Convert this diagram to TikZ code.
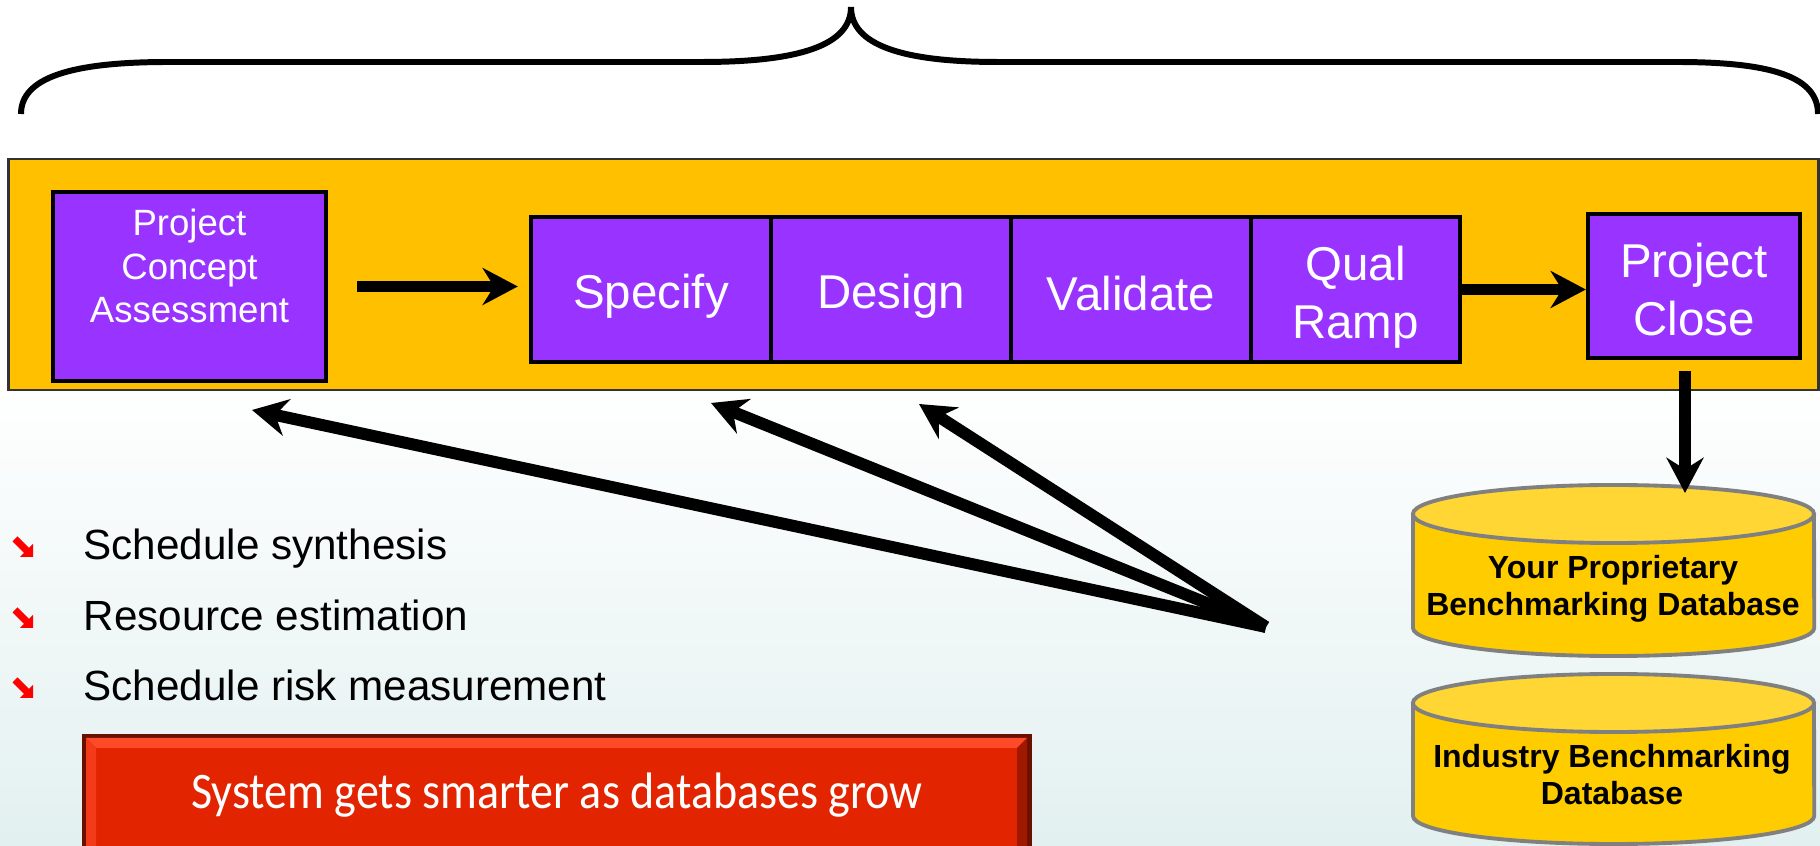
\documentclass[tikz,border=0pt]{standalone}
\usepackage{fontspec}
\setmainfont{Liberation Sans}
\newfontfamily\carl{Carlito}
\usetikzlibrary{arrows.meta,calc}
\definecolor{bandorange}{HTML}{FFC000}
\definecolor{purp}{HTML}{9933FF}
\definecolor{dbbody}{HTML}{FFCC00}
\definecolor{dbtop}{HTML}{FFD633}
\definecolor{dbline}{HTML}{808080}
\definecolor{redmain}{HTML}{E22400}
\definecolor{reddark}{HTML}{6A1000}
\definecolor{redlight}{HTML}{FF4A2A}
\definecolor{redshadow}{HTML}{A01800}
\definecolor{bgb}{HTML}{E3F0F0}
\definecolor{bulred}{HTML}{FF0000}
\newcommand{\dbcyl}[3]{%
  \fill[dbbody] (#1-200.5,#2) -- (#1-200.5,#3) arc[start angle=180,end angle=360,x radius=2.005cm,y radius=0.28cm] -- (#1+200.5,#2) -- cycle;
  \draw[dbline,line width=1.1pt] (#1-200.5,#2) -- (#1-200.5,#3) arc[start angle=180,end angle=360,x radius=2.005cm,y radius=0.28cm] -- (#1+200.5,#2);
  \draw[dbline,line width=1.1pt,fill=dbtop] (#1,#2) ellipse [x radius=2.005cm,y radius=0.29cm];
}
\tikzset{
  stagebox/.style={draw=black,line width=1.2pt,fill=purp,inner sep=0pt},
  stagetext/.style={text=white,inner sep=0pt,align=center,font=\fontsize{13.5}{16.5}\selectfont},
  bigarrow/.style={line width=3.4pt,-{Stealth[length=10pt,width=10.5pt]}},
  bullettext/.style={anchor=base west,inner sep=0pt,font=\fontsize{12}{14}\selectfont},
  dbtext/.style={align=center,inner sep=0pt,font=\bfseries\fontsize{9.1}{10.5}\selectfont},
}
\begin{document}
\begin{tikzpicture}[x=0.01cm,y=-0.01cm]
\useasboundingbox (0,0) rectangle (1820,846);
\clip (0,0) rectangle (1820,846);
\fill[white] (0,0) rectangle (1820,846);
\shade[top color=white,bottom color=bgb] (0,380) rectangle (1820,846);

% brace
\draw[line width=1.7pt] (21,114) .. controls (21,78) and (70,62) .. (168,62) -- (702,62)
  .. controls (800,62) and (851,45) .. (851,7)
  .. controls (851,45) and (902,62) .. (998,62) -- (1677,62)
  .. controls (1775,62) and (1818,78) .. (1818,114);

% band
\node[draw=black!80,line width=0.8pt,fill=bandorange,minimum width=18.09cm,minimum height=2.31cm,inner sep=0pt] (band) at (913.5,274.5) {};

% stages
\node[stagebox,minimum width=2.73cm,minimum height=1.89cm] (pca) at (189.5,286.5) {};
\node[text=white,align=center,inner sep=0pt,font=\fontsize{10.4}{12.3}\selectfont] (pcatxt) at (189.5,266) {Project\\Concept\\Assessment};
\node[stagebox,minimum width=2.4cm,minimum height=1.45cm] (spec) at (651,289.5) {};
\node[stagebox,minimum width=2.4cm,minimum height=1.45cm] (des) at (891,289.5) {};
\node[stagebox,minimum width=2.4cm,minimum height=1.45cm] (val) at (1131,289.5) {};
\node[stagebox,minimum width=2.09cm,minimum height=1.45cm] (qual) at (1355.5,289.5) {};
\node[stagebox,minimum width=2.12cm,minimum height=1.44cm] (close) at (1694,286) {};
\node[stagetext] (spectxt) at ($(spec.center)+(0,7)$) {Specify};
\node[stagetext] (destxt) at ($(des.center)+(0,7)$) {Design};
\node[stagetext] (valtxt) at ($(val.center)+(0,4)$) {Validate};
\node[stagetext] (qualtxt) at ($(qual.center)+(0,8)$) {Qual\\Ramp};
\node[stagetext] (closetxt) at ($(close.center)+(0,4)$) {Project\\Close};

% flow arrows
\draw[bigarrow,shorten <=0.29cm,shorten >=0.11cm] (pca.east) -- (pca.east -| spec.west);
\draw[bigarrow] (qual.east) -- (qual.east -| close.west);
\coordinate (dbin) at (1685,493);

% databases
\dbcyl{1613.5}{514}{628}
\dbcyl{1613.5}{703}{816}
\node[dbtext] (db1) at (1613,589) {Your Proprietary\\Benchmarking Database};
\node[dbtext] (db2) at (1612,775) {Industry Benchmarking\\Database};
\draw[bigarrow,shorten <=0.11cm] (close.south -| dbin) -- (dbin);

% feedback arrows
\coordinate (hub) at (1266,627);
\coordinate (t1) at (252,410);
\coordinate (t2) at (711,403);
\coordinate (t3) at (919,404);
\draw[bigarrow] (hub) -- (t1);
\draw[bigarrow] (hub) -- (t2);
\draw[bigarrow] (hub) -- (t3);

% bullets
\foreach \yy in {560,631,701}{
  \fill[bulred] (33,\yy-3) -- (20,\yy-3) -- (24,\yy-7) -- (12.5,\yy-18.5) -- (17.5,\yy-23.5) -- (29,\yy-12) -- (33,\yy-16) -- cycle;
}
\node[bullettext] (b1) at (83,560) {Schedule synthesis};
\node[bullettext] (b2) at (83,631) {Resource estimation};
\node[bullettext] (b3) at (83,701) {Schedule risk measurement};

% red box
\fill[reddark] (82,734) rectangle (1032,880);
\fill[redmain] (86,738) rectangle (1027,880);
\fill[redlight] (86,738) -- (1027,738) -- (1017,748) -- (96,748) -- cycle;
\fill[redshadow] (1027,738) -- (1027,880) -- (1017,880) -- (1017,748) -- cycle;
\fill[redlight!60!redmain] (86,738) -- (96,748) -- (96,880) -- (86,880) -- cycle;
\node[text=white,inner sep=0pt,font=\carl\fontsize{13.5}{16}\selectfont] (msg) at (557,795) {\scalebox{0.97}[1.08]{System gets smarter as databases grow}};
\end{tikzpicture}
\end{document}
